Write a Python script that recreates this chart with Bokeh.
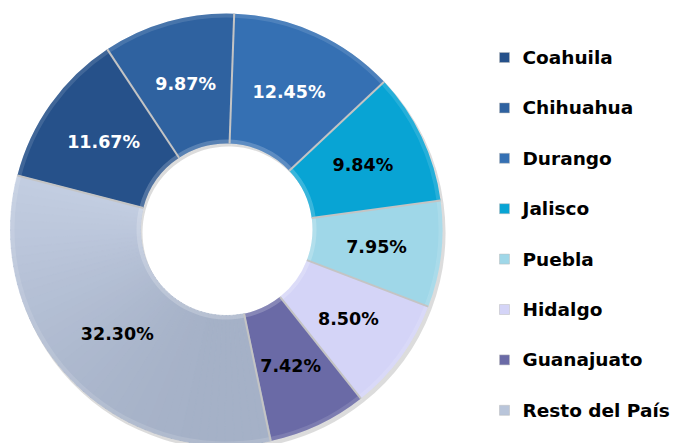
import math
from bokeh.plotting import figure
from bokeh.models import Range1d, ColumnDataSource
from bokeh.core.properties import value
from bokeh.embed import file_html
from bokeh.resources import INLINE

# ---- data ----
states = ["Coahuila", "Chihuahua", "Durango", "Jalisco", "Puebla",
          "Hidalgo", "Guanajuato", "Resto del País"]
shares = [11.67, 9.87, 12.45, 9.84, 7.95, 8.50, 7.42, 32.30]
colors = ["#26518a", "#2f62a0", "#3570b3", "#08a4d4", "#9fd7e8",
          "#d4d4f7", "#6a6aa6", "#b9c5da"]
label_colors = ["white", "white", "white", "black", "black",
                "black", "black", "black"]

# ---- layout ----
W, H = 675, 443
cx, cy = 226, H - 229
r_out, r_in = 216, 86
start_deg = 165.5   # first slice begins here, slices go clockwise
FONT = "DejaVu Sans"

p = figure(width=W, height=H, output_backend="svg", toolbar_location=None,
           x_range=Range1d(0, W), y_range=Range1d(0, H),
           min_border=0, min_border_left=0, min_border_right=0,
           min_border_top=0, min_border_bottom=0)
p.axis.visible = False
p.grid.visible = False
p.outline_line_color = None
p.background_fill_color = "white"
p.border_fill_color = "white"

total = sum(shares)
starts, ends, mids = [], [], []
a = math.radians(start_deg)
for s in shares:
    sweep = 2 * math.pi * s / total
    starts.append(a - sweep)
    ends.append(a)
    mids.append(a - sweep / 2)
    a -= sweep

def lerp(c1, c2, t):
    h1 = [int(c1[i:i + 2], 16) for i in (1, 3, 5)]
    h2 = [int(c2[i:i + 2], 16) for i in (1, 3, 5)]
    return "#%02x%02x%02x" % tuple(round(h1[k] + (h2[k] - h1[k]) * t) for k in range(3))

# soft shadow under the ring
p.annular_wedge(x=cx + 2, y=cy - 3, inner_radius=r_in, outer_radius=r_out + 1,
                start_angle=starts, end_angle=ends,
                fill_color="#9a9a9a", fill_alpha=0.35, line_color=None)

# main slices
for i, name in enumerate(states):
    if name == "Resto del País":
        n = 48
        a0, a1 = starts[i], ends[i]
        for k in range(n):
            b0 = a0 + (a1 - a0) * k / n
            b1 = a0 + (a1 - a0) * (k + 1) / n
            bm = (b0 + b1) / 2
            t = (1 - math.sin(bm)) / 2
            c = lerp("#d4def1", "#a5b1c7", t)
            p.annular_wedge(x=cx, y=cy, inner_radius=r_in, outer_radius=r_out,
                            start_angle=b0, end_angle=b1 + 0.004,
                            fill_color=c, line_color=c, line_width=0.6)
    else:
        p.annular_wedge(x=cx, y=cy, inner_radius=r_in, outer_radius=r_out,
                        start_angle=starts[i], end_angle=ends[i],
                        fill_color=colors[i], line_color=None)

# bevel highlight rings
p.annular_wedge(x=cx, y=cy, inner_radius=r_out - 4, outer_radius=r_out,
                start_angle=starts, end_angle=ends,
                fill_color="white", fill_alpha=0.12, line_color=None)
p.annular_wedge(x=cx, y=cy, inner_radius=r_in, outer_radius=r_in + 4,
                start_angle=starts, end_angle=ends,
                fill_color="white", fill_alpha=0.2, line_color=None)

# radial slice separators
p.segment(x0=[cx + r_in * math.cos(e) for e in ends],
          y0=[cy + r_in * math.sin(e) for e in ends],
          x1=[cx + r_out * math.cos(e) for e in ends],
          y1=[cy + r_out * math.sin(e) for e in ends],
          line_color="#c4c4c4", line_width=2)

# percentage labels
r_lab = (r_in + r_out) / 2
lab = ColumnDataSource(dict(
    x=[cx + r_lab * math.cos(m) for m in mids],
    y=[cy + r_lab * math.sin(m) for m in mids],
    t=["%.2f%%" % s for s in shares],
    c=label_colors,
))
p.text(x="x", y="y", text="t", source=lab, text_color="c",
       text_font=value(FONT), text_font_style="bold", text_font_size="17.5px",
       text_align="center", text_baseline="middle")

# legend
lx_marker = 504
lx_text = 522
row0 = H - 57
step = 50.4
leg = ColumnDataSource(dict(
    x=[lx_marker] * len(states),
    tx=[lx_text] * len(states),
    y=[row0 - step * i for i in range(len(states))],
    c=colors,
    t=states,
))
p.rect(x="x", y="y", width=10, height=10, source=leg,
       fill_color="c", line_color="#bbbbbb", line_width=0.5)
p.text(x="tx", y="y", text="t", source=leg, text_color="black",
       text_font=value(FONT), text_font_style="bold", text_font_size="18.5px",
       text_align="left", text_baseline="middle")

open("out.html", "w").write(file_html(p, INLINE))
